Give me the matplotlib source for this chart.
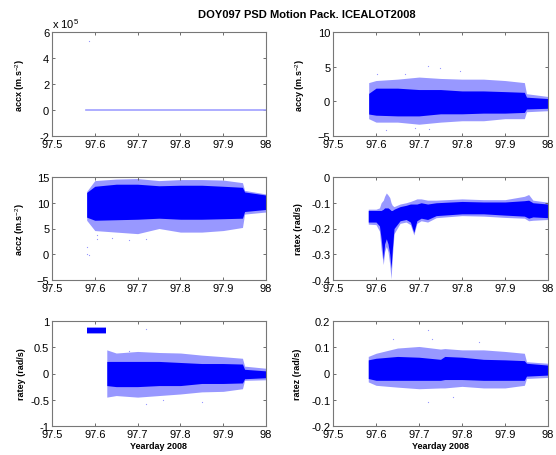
import matplotlib
matplotlib.use("Agg")
import matplotlib.pyplot as plt

plt.rcParams['font.family'] = ['Liberation Sans', 'DejaVu Sans']
plt.rcParams['mathtext.fontset'] = 'custom'
plt.rcParams['mathtext.rm'] = 'Liberation Sans'
plt.rcParams['mathtext.it'] = 'Liberation Sans'

TITLE = "DOY097 PSD Motion Pack. ICEALOT2008"
XLABEL = "Yearday 2008"
xticks = [97.5, 97.6, 97.7, 97.8, 97.9, 98.0]
xticklabels = ["97.5", "97.6", "97.7", "97.8", "97.9", "98"]

# ---- accx (single trace at zero + one spike) ----
accx_x = [97.580, 98.0]
accx_y = [0.0, 0.0]
accx_out_x = [97.586]
accx_out_y = [5.27e5]
accx_yticks = [-2e5, 0, 2e5, 4e5, 6e5]
accx_yticklabels = ["-2", "0", "2", "4", "6"]

# ---- accy envelopes ----
accy_x = [97.583, 97.60, 97.65, 97.70, 97.75, 97.80, 97.85, 97.90, 97.945, 97.950, 98.0]
accy_core_hi = [1.15, 1.9, 1.9, 1.7, 1.7, 1.5, 1.5, 1.4, 1.3, 0.6, 0.4]
accy_core_lo = [-1.83, -2.0, -2.1, -2.1, -1.8, -1.8, -1.7, -1.7, -1.6, -1.1, -1.0]
accy_out_hi = [2.7, 3.0, 3.2, 3.5, 3.3, 3.2, 3.2, 3.0, 2.7, 1.1, 0.7]
accy_out_lo = [-2.5, -3.0, -3.0, -3.3, -3.0, -2.8, -2.8, -2.5, -2.5, -1.5, -1.35]
accy_pts_x = [97.720, 97.667, 97.603, 97.795, 97.748, 97.723, 97.624, 97.69]
accy_pts_y = [5.1, 3.9, 3.9, 4.4, 4.8, -4.0, -4.2, -3.8]

# ---- accz envelopes ----
accz_x = [97.581, 97.60, 97.65, 97.70, 97.75, 97.80, 97.85, 97.90, 97.945, 97.950, 98.0]
accz_core_hi = [12.0, 13.2, 13.6, 13.6, 13.3, 13.4, 13.4, 13.2, 13.0, 12.1, 11.5]
accz_core_lo = [7.2, 6.6, 6.7, 6.8, 7.0, 6.8, 6.8, 6.9, 7.0, 8.3, 8.7]
accz_out_hi = [12.2, 14.3, 14.6, 14.7, 14.3, 14.5, 14.5, 14.4, 13.9, 12.4, 11.7]
accz_out_lo = [6.6, 4.6, 4.3, 4.0, 5.0, 4.3, 4.3, 4.6, 5.2, 7.8, 8.2]
accz_pts_x = [97.582, 97.582, 97.586, 97.605, 97.606, 97.68, 97.72, 97.64]
accz_pts_y = [1.4, 0.05, -0.2, 3.0, 3.7, 2.8, 3.0, 3.2]

# ---- ratex envelopes ----
ratex_x = [97.582, 97.600, 97.608, 97.612, 97.617, 97.620, 97.624, 97.628, 97.632, 97.635,
           97.638, 97.642, 97.656, 97.670, 97.680, 97.688, 97.695, 97.705, 97.720, 97.740,
           97.800, 97.850, 97.900, 97.945, 97.955, 97.965, 98.0]
ratex_core_hi = [-0.13, -0.13, -0.13, -0.13, -0.125, -0.12, -0.12, -0.12, -0.125, -0.13,
                 -0.13, -0.125, -0.115, -0.11, -0.105, -0.105, -0.105, -0.10, -0.105, -0.100,
                 -0.095, -0.097, -0.097, -0.092, -0.09, -0.10, -0.105]
ratex_core_lo = [-0.175, -0.175, -0.19, -0.24, -0.32, -0.26, -0.24, -0.26, -0.30, -0.355,
                 -0.28, -0.20, -0.17, -0.165, -0.175, -0.215, -0.17, -0.16, -0.165, -0.150,
                 -0.143, -0.143, -0.148, -0.152, -0.16, -0.155, -0.158]
ratex_out_hi = [-0.125, -0.125, -0.12, -0.10, -0.09, -0.075, -0.062, -0.07, -0.08, -0.10,
                -0.11, -0.115, -0.105, -0.10, -0.095, -0.09, -0.085, -0.085, -0.09, -0.09,
                -0.085, -0.088, -0.088, -0.075, -0.068, -0.09, -0.098]
ratex_out_lo = [-0.183, -0.185, -0.21, -0.28, -0.34, -0.29, -0.27, -0.29, -0.34, -0.396,
                -0.31, -0.22, -0.18, -0.175, -0.185, -0.225, -0.18, -0.17, -0.175, -0.158,
                -0.15, -0.152, -0.157, -0.16, -0.17, -0.168, -0.165]

# ---- ratey envelopes (two segments) ----
ratey1_x = [97.581, 97.627]
ratey1_core_hi = [0.86, 0.86]
ratey1_core_lo = [0.78, 0.78]
ratey1_out_hi = [0.89, 0.89]
ratey1_out_lo = [0.76, 0.76]
ratey_x = [97.628, 97.65, 97.70, 97.75, 97.80, 97.85, 97.90, 97.945, 97.950, 98.0]
ratey_core_hi = [0.23, 0.23, 0.23, 0.23, 0.21, 0.19, 0.19, 0.18, 0.08, 0.05]
ratey_core_lo = [-0.23, -0.25, -0.25, -0.23, -0.23, -0.19, -0.19, -0.18, -0.10, -0.08]
ratey_out_hi = [0.45, 0.39, 0.42, 0.40, 0.39, 0.35, 0.32, 0.29, 0.14, 0.10]
ratey_out_lo = [-0.45, -0.42, -0.45, -0.42, -0.39, -0.35, -0.34, -0.29, -0.13, -0.12]
ratey_pts_x = [97.72, 97.72, 97.85, 97.68, 97.76]
ratey_pts_y = [0.85, -0.58, -0.55, 0.43, -0.50]

# ---- ratez envelopes ----
ratez_x = [97.582, 97.60, 97.65, 97.70, 97.75, 97.76, 97.80, 97.85, 97.90, 97.945, 97.950, 98.0]
ratez_core_hi = [0.052, 0.058, 0.065, 0.062, 0.054, 0.065, 0.062, 0.054, 0.052, 0.049, 0.039, 0.032]
ratez_core_lo = [-0.019, -0.026, -0.026, -0.026, -0.026, -0.023, -0.023, -0.026, -0.026, -0.026, -0.010, -0.006]
ratez_out_hi = [0.065, 0.077, 0.097, 0.103, 0.093, 0.095, 0.090, 0.090, 0.084, 0.077, 0.045, 0.039]
ratez_out_lo = [-0.032, -0.045, -0.052, -0.058, -0.055, -0.055, -0.049, -0.055, -0.055, -0.045, -0.019, -0.015]
ratez_pts_x = [97.72, 97.72, 97.64, 97.73, 97.84, 97.78]
ratez_pts_y = [0.165, -0.11, 0.13, 0.13, 0.12, -0.09]

CORE = '#0000ff'
OUTER = '#9898ff'
LINE_LIGHT = '#a0a0ff'

fig = plt.figure(figsize=(5.56, 4.56), dpi=100)

W = 556.0
H = 456.0
cols = [(52, 266), (333, 548)]
rows = [(33, 137), (178, 281), (322, 427)]


def make_ax(r, c):
    x0, x1 = cols[c]
    y0, y1 = rows[r]
    ax = fig.add_axes([x0 / W, 1 - y1 / H, (x1 - x0) / W, (y1 - y0) / H])
    ax.set_xlim(97.5, 98.0)
    ax.set_xticks(xticks)
    ax.set_xticklabels(xticklabels)
    ax.tick_params(direction='in', length=2.5, width=0.6, top=True, right=True,
                   labelsize=8, color='#555555')
    ax.tick_params(axis='x', pad=2.4)
    ax.tick_params(axis='y', pad=2)
    for s in ax.spines.values():
        s.set_color('#777777')
        s.set_linewidth(0.8)
    return ax


def bands(ax, x, ohi, olo, chi, clo):
    ax.fill_between(x, olo, ohi, color=OUTER, lw=0, zorder=1)
    ax.fill_between(x, clo, chi, color=CORE, lw=0, zorder=2)


def ylab(ax, txt, xpos):
    ax.set_ylabel(txt, fontsize=6.5, fontweight='bold')
    ax.yaxis.set_label_coords(xpos, 0.5)


def dots(ax, x, y):
    ax.plot(x, y, ls='none', marker='s', ms=0.8, color=OUTER, mec='none', zorder=3)


# accx
ax = make_ax(0, 0)
ax.plot(accx_x, accx_y, color=LINE_LIGHT, lw=1.2)
dots(ax, accx_out_x, accx_out_y)
ax.set_ylim(-2e5, 6e5)
ax.set_yticks(accx_yticks)
ax.set_yticklabels(accx_yticklabels)
ylab(ax, "accx (m.s$^{-2}$)", -0.118)
ax.text(0.0, 1.02, "x 10$^{5}$", transform=ax.transAxes, fontsize=8, ha='left', va='bottom')

# accy
ax = make_ax(0, 1)
bands(ax, accy_x, accy_out_hi, accy_out_lo, accy_core_hi, accy_core_lo)
dots(ax, accy_pts_x, accy_pts_y)
ax.set_ylim(-5, 10)
ax.set_yticks([-5, 0, 5, 10])
ylab(ax, "accy (m.s$^{-2}$)", -0.123)

# accz
ax = make_ax(1, 0)
bands(ax, accz_x, accz_out_hi, accz_out_lo, accz_core_hi, accz_core_lo)
dots(ax, accz_pts_x, accz_pts_y)
ax.set_ylim(-5, 15)
ax.set_yticks([-5, 0, 5, 10, 15])
ylab(ax, "accz (m.s$^{-2}$)", -0.118)

# ratex
ax = make_ax(1, 1)
bands(ax, ratex_x, ratex_out_hi, ratex_out_lo, ratex_core_hi, ratex_core_lo)
ax.set_ylim(-0.4, 0)
ax.set_yticks([-0.4, -0.3, -0.2, -0.1, 0])
ax.set_yticklabels(["-0.4", "-0.3", "-0.2", "-0.1", "0"])
ylab(ax, "ratex (rad/s)", -0.14)

# ratey
ax = make_ax(2, 0)
bands(ax, ratey1_x, ratey1_out_hi, ratey1_out_lo, ratey1_core_hi, ratey1_core_lo)
bands(ax, ratey_x, ratey_out_hi, ratey_out_lo, ratey_core_hi, ratey_core_lo)
dots(ax, ratey_pts_x, ratey_pts_y)
ax.set_ylim(-1, 1)
ax.set_yticks([-1, -0.5, 0, 0.5, 1])
ax.set_yticklabels(["-1", "-0.5", "0", "0.5", "1"])
ylab(ax, "ratey (rad/s)", -0.12)
ax.set_xlabel(XLABEL, fontsize=6.5, fontweight='bold', labelpad=1.5)

# ratez
ax = make_ax(2, 1)
bands(ax, ratez_x, ratez_out_hi, ratez_out_lo, ratez_core_hi, ratez_core_lo)
dots(ax, ratez_pts_x, ratez_pts_y)
ax.set_ylim(-0.2, 0.2)
ax.set_yticks([-0.2, -0.1, 0, 0.1, 0.2])
ax.set_yticklabels(["-0.2", "-0.1", "0", "0.1", "0.2"])
ylab(ax, "ratez (rad/s)", -0.144)
ax.set_xlabel(XLABEL, fontsize=6.5, fontweight='bold', labelpad=1.5)

fig.text(307 / W, 1 - 15 / H, TITLE, fontsize=8, fontweight='bold', ha='center', va='center')

fig.savefig("out.png", dpi=100)
